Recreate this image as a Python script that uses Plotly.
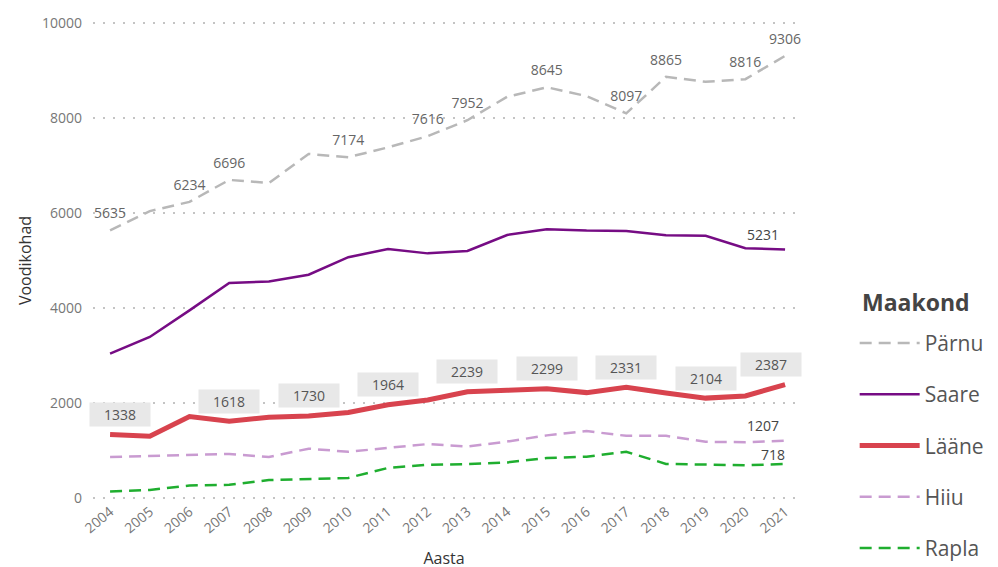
import plotly.graph_objects as go

years = list(range(2004, 2022))
parnu = [5635, 6040, 6234, 6696, 6630, 7242, 7174, 7380, 7616, 7952, 8445, 8645, 8460, 8097, 8865, 8760, 8816, 9306]
saare = [3040, 3390, 3950, 4526, 4560, 4700, 5070, 5240, 5150, 5200, 5537, 5660, 5630, 5620, 5530, 5520, 5260, 5231]
laane = [1338, 1300, 1715, 1618, 1700, 1730, 1800, 1964, 2063, 2239, 2270, 2299, 2220, 2331, 2210, 2104, 2150, 2387]
hiiu = [865, 890, 900, 930, 865, 1040, 975, 1050, 1137, 1085, 1190, 1320, 1410, 1310, 1310, 1185, 1175, 1207]
rapla = [140, 170, 265, 280, 380, 405, 425, 635, 700, 715, 750, 845, 870, 975, 720, 705, 690, 718]

parnu_labeled = [2004, 2006, 2007, 2010, 2012, 2013, 2015, 2017, 2018, 2020, 2021]
laane_labeled = [2004, 2007, 2009, 2011, 2013, 2015, 2017, 2019, 2021]
y_ticks = [0, 2000, 4000, 6000, 8000, 10000]

FONT = "Segoe UI, Open Sans, sans-serif"
CLEAR = "rgba(0,0,0,0)"

def end_only(vals):
    return [""] * (len(vals) - 1) + [str(vals[-1])]

fig = go.Figure()
fig.add_trace(go.Scatter(
    x=years, y=parnu, name="Pärnu", mode="lines+markers+text",
    text=[str(v) if y in parnu_labeled else "" for y, v in zip(years, parnu)],
    textposition="top center", textfont=dict(size=14, color="#666666", family=FONT),
    marker=dict(size=12, color=CLEAR, line=dict(width=0)),
    line=dict(color="#b8b8b8", width=2.5, dash="12px,7px"),
    cliponaxis=False, legendgroup="a"))
fig.add_trace(go.Scatter(
    x=years, y=saare, name="Saare", mode="lines+markers+text",
    text=end_only(saare), textposition="top left",
    textfont=dict(size=14, color="#444444", family=FONT),
    marker=dict(size=8, color=CLEAR, line=dict(width=0)),
    line=dict(color="#760c84", width=2.5),
    cliponaxis=False, legendgroup="b"))
fig.add_trace(go.Scatter(
    x=years, y=laane, name="Lääne", mode="lines",
    line=dict(color="#d8434e", width=5),
    cliponaxis=False, legendgroup="c"))
fig.add_trace(go.Scatter(
    x=years, y=hiiu, name="Hiiu", mode="lines+markers+text",
    text=end_only(hiiu), textposition="top left",
    textfont=dict(size=14, color="#444444", family=FONT),
    marker=dict(size=8, color=CLEAR, line=dict(width=0)),
    line=dict(color="#c99bd1", width=2.5, dash="12px,7px"),
    cliponaxis=False, legendgroup="d"))
fig.add_trace(go.Scatter(
    x=years, y=rapla, name="Rapla", mode="lines+text",
    text=end_only(rapla), textposition="top left",
    textfont=dict(size=14, color="#444444", family=FONT),
    line=dict(color="#1fae2f", width=2.5, dash="12px,7px"),
    cliponaxis=False, legendgroup="e"))

for yr, v in zip(years, laane):
    if yr in laane_labeled:
        xs = 0
        if yr == years[0]:
            xs = 10
        elif yr == years[-1]:
            xs = -14
        fig.add_annotation(
            x=yr, y=v, text=str(v), showarrow=False, yshift=20, xshift=xs,
            width=58, height=21, bgcolor="#e8e8e8", borderpad=1,
            font=dict(size=14, color="#555555", family=FONT))

fig.add_annotation(
    xref="paper", yref="paper", x=1.093, y=0.413, xanchor="left", yanchor="middle",
    text="<b>Maakond</b>", showarrow=False,
    font=dict(size=23, color="#444444", family=FONT))

fig.update_layout(
    width=998, height=567,
    margin=dict(l=85, r=211, t=13, b=75, autoexpand=False),
    paper_bgcolor="white", plot_bgcolor="white",
    font=dict(family=FONT, color="#666666"),
    showlegend=True,
    legend=dict(
        font=dict(size=21, color="#555555", family=FONT),
        x=1.085, xanchor="left", y=0.37, yanchor="top",
        traceorder="grouped", tracegroupgap=21,
        itemwidth=60),
    xaxis=dict(
        range=[2003.57, 2021.25], tickmode="array", tickvals=years,
        ticktext=[str(y) for y in years], tickangle=-40,
        tickfont=dict(size=14, color="#777777"),
        showgrid=False, zeroline=False, showline=False, automargin=False,
        title=dict(text="Aasta", font=dict(size=16, color="#333333"), standoff=16)),
    yaxis=dict(
        range=[-40, 10040], tickmode="array", tickvals=y_ticks,
        ticktext=[str(v) for v in y_ticks],
        tickfont=dict(size=14, color="#777777"),
        showgrid=True, gridcolor="#c4c4c4", griddash="2px,8px", gridwidth=1.5,
        zeroline=False, showline=False, ticklabelstandoff=10, automargin=False,
        title=dict(text="Voodikohad", font=dict(size=16, color="#333333"), standoff=6)),
)

fig.write_html("out.html")
